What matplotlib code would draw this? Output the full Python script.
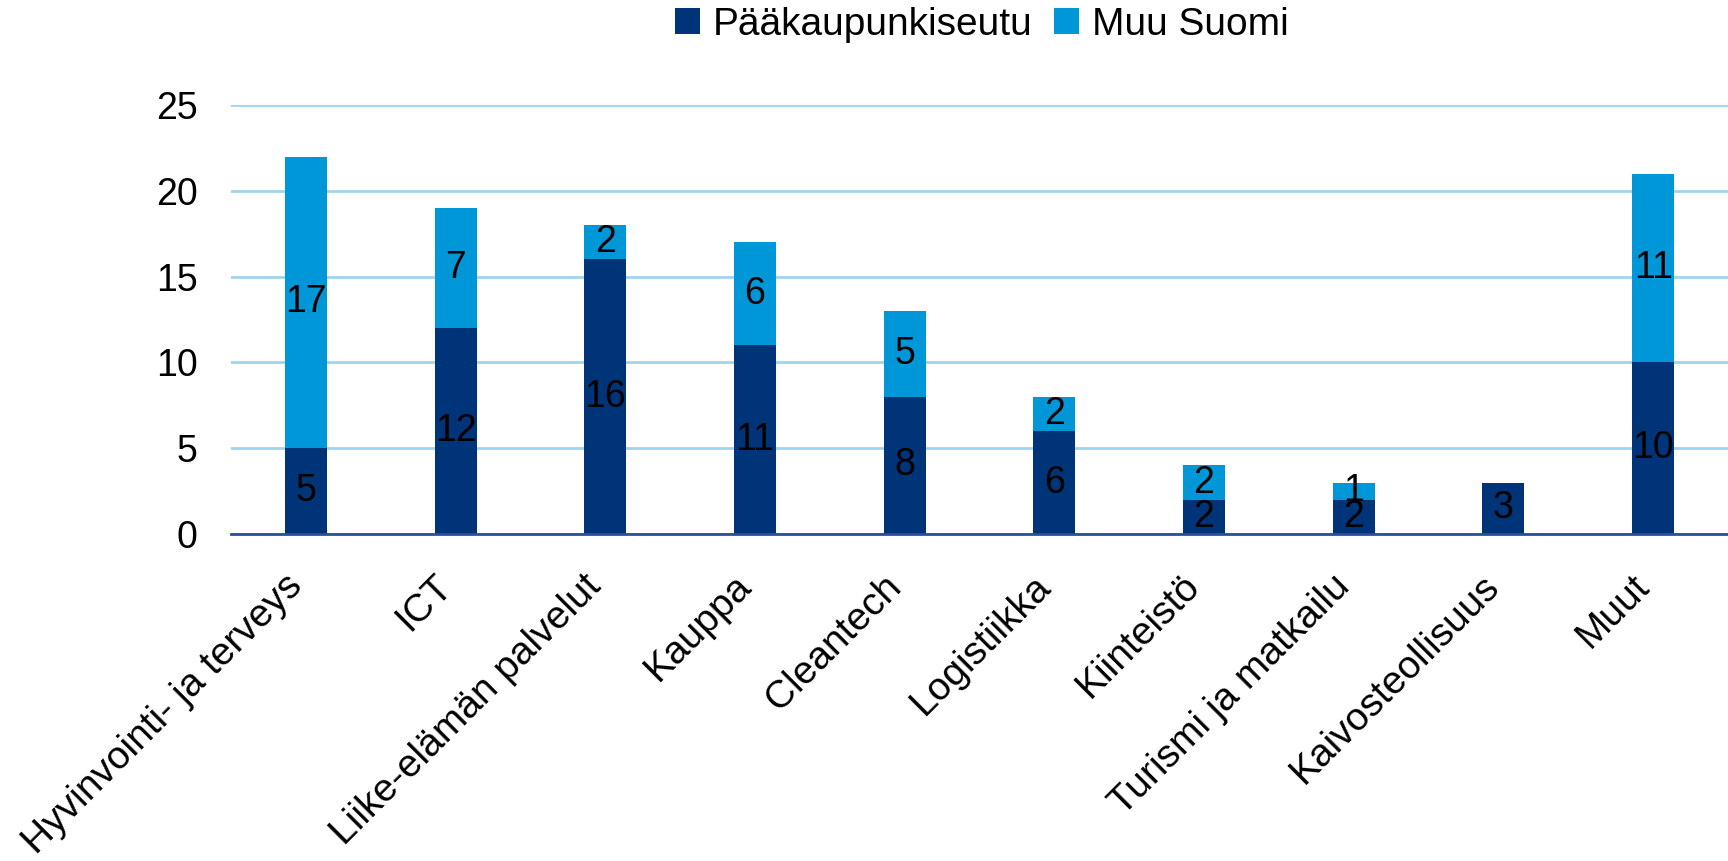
import matplotlib.pyplot as plt
from matplotlib.transforms import ScaledTranslation
import numpy as np

plt.rcParams['font.family'] = ['Liberation Sans', 'DejaVu Sans']

categories = ["Hyvinvointi- ja terveys", "ICT", "Liike-elämän palvelut", "Kauppa",
              "Cleantech", "Logistiikka", "Kiinteistö", "Turismi ja matkailu",
              "Kaivosteollisuus", "Muut"]
paakaupunkiseutu = [5, 12, 16, 11, 8, 6, 2, 2, 3, 10]
muu_suomi = [17, 7, 2, 6, 5, 2, 2, 1, 0, 11]

dark = "#003478"
light = "#0097D8"

fig = plt.figure(figsize=(17.28, 8.61), dpi=100)
ax = fig.add_axes([0.1337, 0.3798, 0.8663, 0.4982])

x = np.arange(len(categories))
w = 0.28
b1 = ax.bar(x, paakaupunkiseutu, w, color=dark, label="Pääkaupunkiseutu", zorder=3)
b2 = ax.bar(x, muu_suomi, w, bottom=paakaupunkiseutu, color=light, label="Muu Suomi", zorder=3)

fs = 28
nfs = 27
for i in range(len(categories)):
    if paakaupunkiseutu[i]:
        ax.text(x[i], paakaupunkiseutu[i] / 2, str(paakaupunkiseutu[i]),
                ha='center', va='center', fontsize=nfs, zorder=4)
    if muu_suomi[i]:
        ax.text(x[i], paakaupunkiseutu[i] + muu_suomi[i] / 2, str(muu_suomi[i]),
                ha='center', va='center', fontsize=nfs, zorder=4)

ax.set_xlim(-0.5, len(categories) - 0.5)
ax.set_ylim(0, 25)
ax.set_yticks([0, 5, 10, 15, 20, 25])
ax.yaxis.grid(True, color="#9fd4ee", linewidth=2, zorder=0)
ax.tick_params(axis='y', length=0, labelsize=nfs, pad=24)
ax.tick_params(axis='x', length=0, labelsize=fs, pad=0)
ax.set_xticks(x)
ax.set_xticklabels(categories, rotation=45, ha='right', va='top', rotation_mode='anchor')
# push the rotated labels down-left like the original
shift = ScaledTranslation(-22 / 100, -34 / 100, fig.dpi_scale_trans)
for lab in ax.get_xticklabels():
    lab.set_transform(lab.get_transform() + shift)
for s in ['top', 'right', 'left']:
    ax.spines[s].set_visible(False)
ax.spines['bottom'].set_color("#2a4f9a")
ax.spines['bottom'].set_linewidth(2)
ax.spines['bottom'].set_zorder(5)

fig.legend(handles=[b1, b2], loc='center', bbox_to_anchor=(0.568, 1 - 25 / 861),
           ncol=2, frameon=False, fontsize=fs, handlelength=0.65, handleheight=0.65,
           handletextpad=0.33, columnspacing=0.54, borderaxespad=0, borderpad=0)

fig.savefig("out.png", dpi=100)
